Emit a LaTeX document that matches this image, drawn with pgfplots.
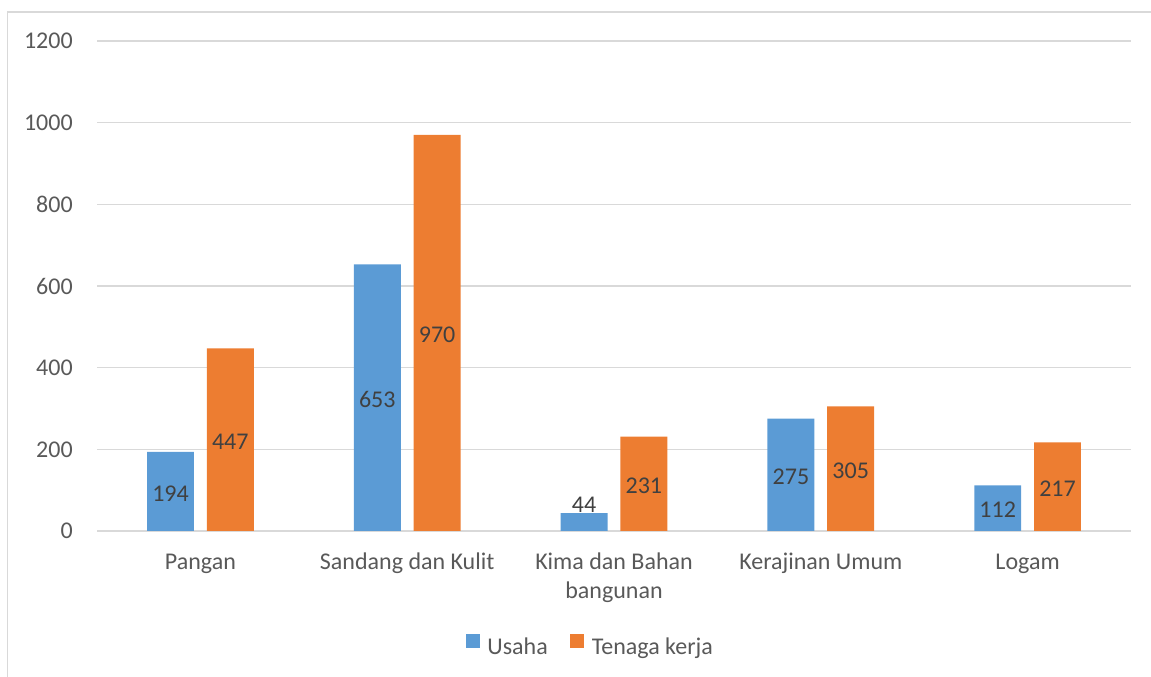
\documentclass[border=0pt]{standalone}
\usepackage{fontspec}
\setmainfont{Carlito}
\usepackage{pgfplots}
\pgfplotsset{compat=1.18}

\definecolor{usaha}{HTML}{5B9BD5}
\definecolor{tenaga}{HTML}{ED7D31}
\definecolor{ticktext}{HTML}{595959}
\definecolor{labeltext}{HTML}{404040}
\definecolor{gridgray}{HTML}{D9D9D9}

\begin{document}
\begin{tikzpicture}
% page: 1151 x 677 px at 0.75pt per px
\useasboundingbox (0,0) rectangle (863.25pt,507.75pt);
\draw[gridgray, line width=1.1pt] (5.6pt,-2pt) -- (5.6pt,498.75pt) -- (870pt,498.75pt);

\begin{axis}[
    at={(72.75pt,109.5pt)}, anchor=south west,
    scale only axis,
    width=775.5pt, height=367.5pt,
    xmin=-0.5, xmax=4.5,
    ymin=0, ymax=1200,
    xtick={0,1,2,3,4},
    xticklabels={Pangan, Sandang dan Kulit,
        {\begin{tabular}[t]{@{}c@{}}Kima dan Bahan\\bangunan\end{tabular}},
        Kerajinan Umum, Logam},
    ytick={0,200,...,1200},
    ymajorgrids,
    grid style={gridgray, line width=1.2pt},
    axis line style={draw=none},
    major tick length=0pt,
    tick label style={font=\fontsize{18}{21.75}\selectfont, text=ticktext},
    /pgf/number format/assume math mode=true,
    /pgf/number format/1000 sep={},
    yticklabel style={anchor=east, inner sep=0pt, xshift=-18pt},
    xticklabel style={anchor=base, inner sep=0pt, yshift=-29.25pt},
    legend style={
        at={(0.4763,-0.233)}, anchor=center,
        draw=none, fill=none, inner sep=0pt,
        legend columns=2,
        font=\fontsize{18}{21}\selectfont,
        text=ticktext,
        nodes={inner sep=0pt},
        /tikz/every odd column/.append style={column sep=5.5pt},
        /tikz/every even column/.append style={column sep=17pt},
    },
    legend image code/.code={\fill[#1] (0pt,-0.5pt) rectangle (10.5pt,10pt);},
    nodes near coords style={font=\fontsize{18}{21}\selectfont, text=labeltext, anchor=center, inner sep=0pt, yshift=-1.5pt},
]

\addplot[ybar, bar width=0.227, bar shift=-0.1445, fill=usaha, draw=none]
    coordinates {(0,194) (1,653) (2,44) (3,275) (4,112)};
\addlegendentry{Usaha}

\addplot[ybar, bar width=0.227, bar shift=0.1445, fill=tenaga, draw=none]
    coordinates {(0,447) (1,970) (2,231) (3,305) (4,217)};
\addlegendentry{Tenaga kerja}

% data labels, centred in the bars as in the original (44 sits just above its bar)
\addplot[draw=none, forget plot, nodes near coords, point meta=explicit symbolic]
    coordinates {(-0.1445,97)[194] (0.8555,326.5)[653] (1.8555,70)[44] (2.8555,137.5)[275] (3.8555,56)[112]};
\addplot[draw=none, forget plot, nodes near coords, point meta=explicit symbolic]
    coordinates {(0.1445,223.5)[447] (1.1445,485)[970] (2.1445,115.5)[231] (3.1445,152.5)[305] (4.1445,108.5)[217]};

\end{axis}
\end{tikzpicture}
\end{document}
